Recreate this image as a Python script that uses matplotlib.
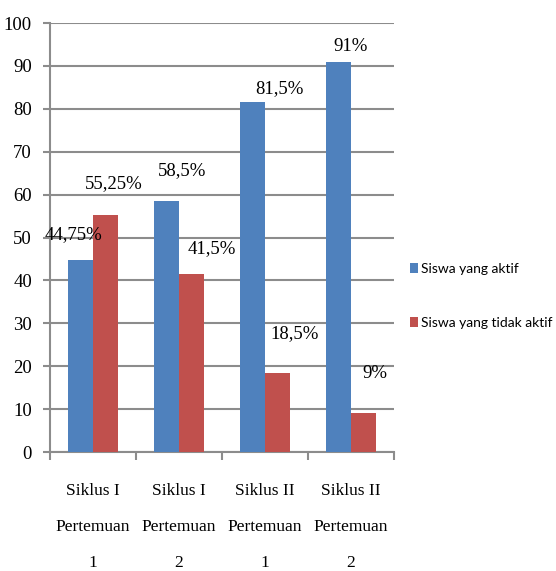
import matplotlib.pyplot as plt
import numpy as np

categories = ["Siklus I\nPertemuan\n1", "Siklus I\nPertemuan\n2",
              "Siklus II\nPertemuan\n1", "Siklus II\nPertemuan\n2"]
aktif = [44.75, 58.5, 81.5, 91]
tidak_aktif = [55.25, 41.5, 18.5, 9]
aktif_labels = ["44,75%", "58,5%", "81,5%", "91%"]
tidak_labels = ["55,25%", "41,5%", "18,5%", "9%"]
series_names = ["Siswa yang aktif", "Siswa yang tidak aktif"]

# label placement (x offset from category centre, y offset above bar top)
aktif_lbl_dx = [-0.23, 0.03, 0.17, 0.0]
aktif_lbl_dy = [5.9, 7.2, 3.3, 3.6]
tidak_lbl_dx = [0.24, 0.38, 0.35, 0.28]
tidak_lbl_dy = [7.4, 6.0, 9.2, 9.4]

BLUE = "#4F81BD"
RED = "#C0504D"
GREY = "#8C8C8C"
SERIF = "Liberation Serif"
FS = 13.5

fig = plt.figure(figsize=(5.56, 5.71), dpi=100)
ax = fig.add_axes([0.0899, 0.2084, 0.6187, 0.7513])

x = np.arange(len(categories))
w = 0.29
b1 = ax.bar(x - w / 2, aktif, w, color=BLUE, label=series_names[0], zorder=3)
b2 = ax.bar(x + w / 2, tidak_aktif, w, color=RED, label=series_names[1], zorder=3)

for i in range(len(categories)):
    ax.text(x[i] + aktif_lbl_dx[i], aktif[i] + aktif_lbl_dy[i], aktif_labels[i],
            ha="center", va="center", fontsize=FS, family=SERIF, zorder=4)
    ax.text(x[i] + tidak_lbl_dx[i], tidak_aktif[i] + tidak_lbl_dy[i], tidak_labels[i],
            ha="center", va="center", fontsize=FS, family=SERIF, zorder=4)

ax.set_xlim(-0.5, len(categories) - 0.5)
ax.set_ylim(0, 100)
ax.set_yticks(np.arange(0, 101, 10))
ax.yaxis.grid(True, color=GREY, linewidth=1.5, zorder=0)
ax.tick_params(axis="y", length=5, width=1.5, color=GREY, pad=8)
for lbl in ax.get_yticklabels():
    lbl.set_family(SERIF)
    lbl.set_fontsize(FS)

# category boundaries as major ticks, names on minor ticks
ax.set_xticks(np.arange(-0.5, len(categories), 1.0))
ax.set_xticklabels([])
ax.set_xticks(x, minor=True)
ax.set_xticklabels(categories, minor=True, family=SERIF, fontsize=12.5,
                   linespacing=2.7, va="top")
ax.tick_params(axis="x", which="major", length=6, width=1.5, color=GREY)
ax.tick_params(axis="x", which="minor", length=0, pad=22)

for side in ["top", "right"]:
    ax.spines[side].set_visible(False)
for side in ["left", "bottom"]:
    ax.spines[side].set_color(GREY)
    ax.spines[side].set_linewidth(1.5)

fig.legend(handles=[b1, b2], loc="center left", bbox_to_anchor=(0.715, 0.482),
           frameon=False, prop={"family": "Lato", "size": 10},
           handlelength=0.6, handleheight=0.75, handletextpad=0.2,
           labelspacing=3.0)

fig.savefig("out.png", dpi=100)
